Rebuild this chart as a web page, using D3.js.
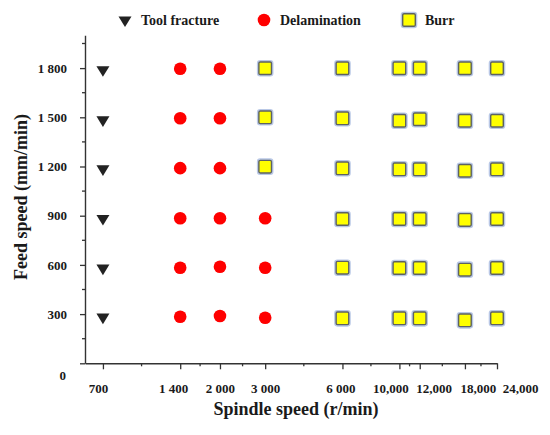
<!DOCTYPE html>
<html>
<head>
<meta charset="utf-8">
<script src="https://cdn.jsdelivr.net/npm/d3@7"></script>
<style>
  body { margin: 0; background: #fff; }
  text { font-family: "Liberation Serif", "Times New Roman", serif; font-weight: bold; fill: #1a1a1a; }
</style>
</head>
<body>
<script>
// Axis ticks
var speeds = [700, 1400, 2000, 3000, 6000, 10000, 12000, 18000, 24000];
var speedLabels = ["700", "1 400", "2 000", "3 000", "6 000", "10,000", "12,000", "18,000", "24,000"];
var feedTicks = [0, 300, 600, 900, 1200, 1500, 1800];
var feedLabels = ["0", "300", "600", "900", "1 200", "1 500", "1 800"];

// Series: [spindle speed, feed speed]
var toolFracture = [
  [700, 1790], [700, 1484], [700, 1185], [700, 883], [700, 580], [700, 281]
];
var delamination = [
  [1400, 1796], [2000, 1796],
  [1400, 1494], [2000, 1494],
  [1400, 1190], [2000, 1190],
  [1400, 884], [2000, 884], [3000, 884],
  [1400, 583], [2000, 589], [3000, 583],
  [1400, 284], [2000, 288], [3000, 278]
];
var burr = [
  [3000, 1799], [6000, 1799], [10000, 1799], [12000, 1799], [18000, 1799], [24000, 1799],
  [3000, 1500], [6000, 1494], [10000, 1479], [12000, 1488], [18000, 1479], [24000, 1479],
  [3000, 1199], [6000, 1189], [10000, 1183], [12000, 1183], [18000, 1174], [24000, 1183],
  [6000, 880], [10000, 880], [12000, 880], [18000, 874], [24000, 880],
  [6000, 583], [10000, 581], [12000, 581], [18000, 571], [24000, 581],
  [6000, 274], [10000, 274], [12000, 274], [18000, 262], [24000, 274]
];

var svgWidth = 550;
var svgHeight = 435;

var svg = d3.select("body")
  .append("svg")
  .attr("width", svgWidth)
  .attr("height", svgHeight);

svg.append("rect").attr("width", svgWidth).attr("height", svgHeight).attr("fill", "#fff");

var x = d3.scaleLog().domain([596, 24000]).range([85, 497]);
var y = d3.scaleLinear().domain([0, 2000]).range([363.3, 35.3]);

var axisColor = "#333";

// minor ticks sit halfway (in log space) between the labelled speeds
var speedMinor = d3.pairs(speeds).map(function(p) { return Math.sqrt(p[0] * p[1]); });
var feedMinor = d3.range(150, 2000, 300);

// x axis
var xAxis = svg.append("g")
  .attr("transform", "translate(0," + y(0) + ")")
  .call(d3.axisBottom(x).tickValues(speeds).tickSize(6).tickSizeOuter(0).tickPadding(14)
    .tickFormat(function(d, i) { return speedLabels[i]; }));

xAxis.append("g").selectAll("line")
  .data(speedMinor)
  .join("line")
  .attr("x1", function(d) { return x(d); })
  .attr("x2", function(d) { return x(d); })
  .attr("y2", 3);

// crowded labels on the right were pushed aside in the original
var labelNudge = { 700: -5, 1400: -7, 6000: -2, 10000: -9, 12000: 14, 18000: 13, 24000: 23 };
xAxis.selectAll(".tick text")
  .attr("dx", function(d) { return labelNudge[d] || 0; })
  .style("font-size", "13px");

// y axis
var yAxis = svg.append("g")
  .attr("transform", "translate(" + x.range()[0] + ",0)")
  .call(d3.axisLeft(y).tickValues(feedTicks).tickSize(5).tickSizeOuter(0).tickPadding(13)
    .tickFormat(function(d, i) { return feedLabels[i]; }));

yAxis.append("g").selectAll("line")
  .data(feedMinor)
  .join("line")
  .attr("y1", function(d) { return y(d); })
  .attr("y2", function(d) { return y(d); })
  .attr("x2", -3);

yAxis.selectAll(".tick text")
  .style("font-size", "13px")
  .attr("dy", function(d) { return d === 0 ? "1.25em" : "0.32em"; })
  .attr("dx", function(d) { return d === 0 ? -1 : 0; });

[xAxis, yAxis].forEach(function(g) {
  g.select(".domain").attr("stroke", axisColor).attr("stroke-width", 1.4);
  g.selectAll("line").attr("stroke", axisColor).attr("stroke-width", 1.3);
  g.attr("font-family", null).attr("font-size", null);
});

// marker drawers
var triPath = "M-6.5,-3.6L6.5,-3.6L0,7.1Z";

function drawTriangle(sel) {
  sel.append("path").attr("d", triPath).attr("fill", "#222");
}
function drawCircle(sel) {
  sel.append("circle").attr("r", 6.3).attr("fill", "#ff0000");
}
function drawSquare(sel) {
  sel.append("rect")
    .attr("x", -6.8).attr("y", -6.8).attr("width", 13.6).attr("height", 13.6).attr("rx", 1.8)
    .attr("fill", "none").attr("stroke", "#b9c8e6").attr("stroke-width", 3);
  sel.append("rect")
    .attr("x", -6.3).attr("y", -6.3).attr("width", 12.6).attr("height", 12.6).attr("rx", 1.4)
    .attr("fill", "#ffff00").attr("stroke", "#5e6262").attr("stroke-width", 1.4);
}

function plotSeries(data, draw) {
  svg.append("g").selectAll("g")
    .data(data)
    .join("g")
    .attr("transform", function(d) { return "translate(" + x(d[0]) + "," + y(d[1]) + ")"; })
    .call(draw);
}

plotSeries(toolFracture, drawTriangle);
plotSeries(delamination, drawCircle);
plotSeries(burr, drawSquare);

// legend
var legendItems = [
  { name: "Tool fracture", draw: drawTriangle, x: 125, tx: 141 },
  { name: "Delamination", draw: drawCircle, x: 264, tx: 280 },
  { name: "Burr", draw: drawSquare, x: 409, tx: 425 }
];

legendItems.forEach(function(item) {
  svg.append("g").attr("transform", "translate(" + item.x + ",20)").call(item.draw);
  svg.append("text")
    .attr("x", item.tx)
    .attr("y", 25)
    .style("font-size", "14px")
    .text(item.name);
});

// axis titles
svg.append("text")
  .attr("x", 296)
  .attr("y", 415)
  .attr("text-anchor", "middle")
  .style("font-size", "18px")
  .text("Spindle speed (r/min)");

svg.append("text")
  .attr("transform", "translate(27,197) rotate(-90)")
  .attr("text-anchor", "middle")
  .style("font-size", "18px")
  .text("Feed speed (mm/min)");
</script>
</body>
</html>
